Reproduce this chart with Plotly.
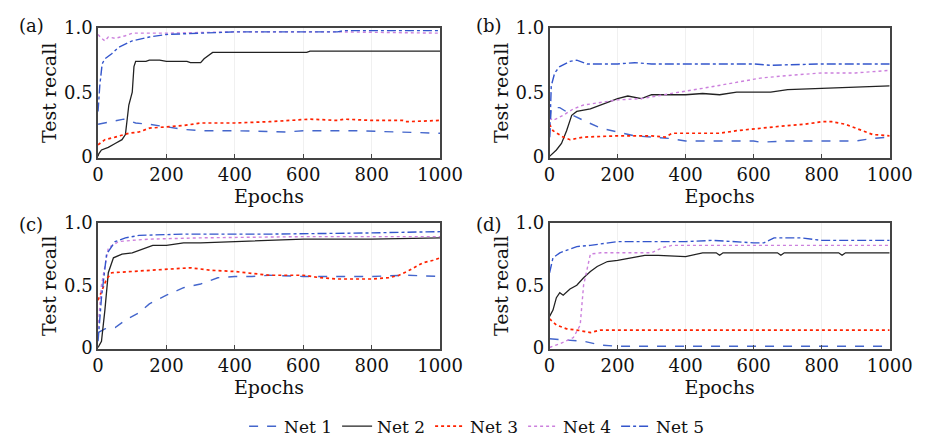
import plotly.graph_objects as go

# ---------------- data ----------------
net_names = ["Net 1", "Net 2", "Net 3", "Net 4", "Net 5"]
panel_labels = ["(a)", "(b)", "(c)", "(d)"]
x_ticks = [0, 200, 400, 600, 800, 1000]
y_ticks = [0, 0.5, 1.0]
y_tick_text = ["0", "0.5", "1.0"]

# panel (a)
a_net1_x = [0, 20, 50, 75, 110, 150, 200, 250, 300, 400, 550, 600, 750, 850, 1000]
a_net1_y = [0.25, 0.26, 0.28, 0.29, 0.26, 0.25, 0.23, 0.21, 0.20, 0.20, 0.19, 0.20, 0.20, 0.19, 0.18]
a_net2_x = [0, 2, 10, 30, 50, 70, 80, 85, 90, 100, 105, 110, 140, 150, 180, 200, 260, 270, 300, 310, 320, 335, 610, 620, 1000]
a_net2_y = [0.0, 0.02, 0.05, 0.07, 0.10, 0.13, 0.17, 0.30, 0.40, 0.50, 0.70, 0.74, 0.74, 0.75, 0.75, 0.74, 0.74, 0.73, 0.73, 0.76, 0.78, 0.81, 0.81, 0.82, 0.82]
a_net3_x = [0, 20, 50, 90, 120, 150, 200, 250, 300, 400, 500, 620, 700, 720, 800, 890, 900, 1000]
a_net3_y = [0.09, 0.13, 0.15, 0.18, 0.19, 0.22, 0.23, 0.24, 0.26, 0.26, 0.27, 0.29, 0.28, 0.29, 0.28, 0.28, 0.27, 0.28]
a_net4_x = [0, 10, 20, 30, 50, 80, 100, 200, 400, 700, 1000]
a_net4_y = [0.95, 0.92, 0.90, 0.93, 0.92, 0.94, 0.96, 0.96, 0.97, 0.97, 0.96]
a_net5_x = [0, 5, 12, 20, 40, 60, 100, 150, 200, 300, 400, 700, 720, 1000]
a_net5_y = [0.35, 0.55, 0.72, 0.76, 0.80, 0.85, 0.90, 0.93, 0.95, 0.96, 0.97, 0.97, 0.98, 0.98]

# panel (b)
b_net1_x = [0, 5, 30, 60, 100, 150, 200, 250, 350, 400, 600, 620, 700, 900, 950, 1000]
b_net1_y = [0.15, 0.38, 0.38, 0.33, 0.28, 0.22, 0.19, 0.16, 0.14, 0.12, 0.12, 0.11, 0.12, 0.12, 0.14, 0.15]
b_net2_x = [0, 20, 35, 50, 65, 80, 120, 150, 200, 230, 270, 300, 400, 450, 500, 550, 650, 700, 800, 900, 1000]
b_net2_y = [0.0, 0.05, 0.10, 0.20, 0.32, 0.35, 0.37, 0.40, 0.45, 0.47, 0.45, 0.48, 0.48, 0.49, 0.48, 0.50, 0.50, 0.52, 0.53, 0.54, 0.55]
b_net3_x = [0, 10, 40, 60, 100, 200, 300, 340, 360, 500, 550, 620, 700, 750, 800, 830, 870, 920, 950, 1000]
b_net3_y = [0.25, 0.20, 0.15, 0.13, 0.15, 0.16, 0.16, 0.15, 0.18, 0.18, 0.20, 0.22, 0.24, 0.25, 0.27, 0.27, 0.25, 0.20, 0.17, 0.16]
b_net4_x = [0, 10, 40, 70, 100, 150, 200, 270, 330, 380, 450, 550, 620, 700, 800, 900, 1000]
b_net4_y = [0.30, 0.28, 0.32, 0.37, 0.40, 0.42, 0.44, 0.45, 0.48, 0.50, 0.53, 0.58, 0.61, 0.63, 0.65, 0.65, 0.67]
b_net5_x = [0, 5, 15, 30, 60, 80, 110, 200, 250, 300, 600, 650, 800, 1000]
b_net5_y = [0.15, 0.55, 0.65, 0.70, 0.74, 0.75, 0.72, 0.72, 0.73, 0.72, 0.72, 0.71, 0.72, 0.72]

# panel (c)
c_net1_x = [0, 20, 50, 80, 120, 150, 200, 250, 300, 350, 400, 450, 500, 600, 800, 900, 1000]
c_net1_y = [0.12, 0.15, 0.16, 0.22, 0.28, 0.35, 0.42, 0.48, 0.51, 0.56, 0.57, 0.57, 0.58, 0.57, 0.57, 0.58, 0.57]
c_net2_x = [0, 10, 20, 30, 45, 70, 100, 140, 160, 200, 250, 300, 400, 500, 600, 800, 1000]
c_net2_y = [0.0, 0.05, 0.30, 0.60, 0.72, 0.75, 0.76, 0.80, 0.82, 0.82, 0.84, 0.84, 0.85, 0.86, 0.87, 0.87, 0.88]
c_net3_x = [0, 10, 25, 40, 100, 200, 270, 330, 400, 500, 600, 650, 700, 800, 850, 880, 910, 950, 980, 1000]
c_net3_y = [0.38, 0.45, 0.55, 0.60, 0.61, 0.63, 0.64, 0.62, 0.61, 0.58, 0.58, 0.56, 0.55, 0.55, 0.56, 0.58, 0.62, 0.68, 0.70, 0.72]
c_net4_x = [0, 10, 30, 60, 100, 150, 300, 600, 1000]
c_net4_y = [0.15, 0.50, 0.80, 0.85, 0.86, 0.87, 0.88, 0.89, 0.89]
c_net5_x = [0, 10, 25, 50, 80, 120, 250, 500, 800, 1000]
c_net5_y = [0.05, 0.40, 0.75, 0.85, 0.88, 0.90, 0.91, 0.91, 0.92, 0.93]

# panel (d)
d_net1_x = [0, 50, 100, 150, 200, 1000]
d_net1_y = [0.07, 0.06, 0.05, 0.02, 0.01, 0.01]
d_net2_x = [0, 10, 20, 30, 40, 60, 80, 100, 120, 140, 170, 200, 240, 280, 320, 400, 450, 490, 500, 510, 670, 680, 690, 850, 860, 870, 1000]
d_net2_y = [0.25, 0.30, 0.40, 0.44, 0.42, 0.47, 0.50, 0.56, 0.61, 0.65, 0.69, 0.70, 0.72, 0.74, 0.74, 0.73, 0.76, 0.76, 0.74, 0.76, 0.76, 0.74, 0.76, 0.76, 0.74, 0.76, 0.76]
d_net3_x = [0, 20, 50, 80, 120, 150, 1000]
d_net3_y = [0.23, 0.18, 0.15, 0.14, 0.12, 0.14, 0.14]
d_net4_x = [0, 30, 70, 90, 100, 120, 150, 300, 330, 360, 1000]
d_net4_y = [0.0, 0.03, 0.08, 0.18, 0.50, 0.75, 0.76, 0.76, 0.80, 0.82, 0.82]
d_net5_x = [0, 10, 30, 50, 80, 120, 200, 400, 480, 600, 630, 660, 740, 800, 1000]
d_net5_y = [0.60, 0.72, 0.76, 0.78, 0.81, 0.82, 0.85, 0.85, 0.86, 0.84, 0.84, 0.88, 0.88, 0.86, 0.86]

panels = [
    [(a_net1_x, a_net1_y), (a_net2_x, a_net2_y), (a_net3_x, a_net3_y), (a_net4_x, a_net4_y), (a_net5_x, a_net5_y)],
    [(b_net1_x, b_net1_y), (b_net2_x, b_net2_y), (b_net3_x, b_net3_y), (b_net4_x, b_net4_y), (b_net5_x, b_net5_y)],
    [(c_net1_x, c_net1_y), (c_net2_x, c_net2_y), (c_net3_x, c_net3_y), (c_net4_x, c_net4_y), (c_net5_x, c_net5_y)],
    [(d_net1_x, d_net1_y), (d_net2_x, d_net2_y), (d_net3_x, d_net3_y), (d_net4_x, d_net4_y), (d_net5_x, d_net5_y)],
]

# ---------------- styles ----------------
styles = [
    dict(color="#4466cc", dash="dash", width=1.4),
    dict(color="#222222", dash="solid", width=1.3),
    dict(color="#ff2200", dash="dot", width=1.7),
    dict(color="#cc80dd", dash="dot", width=1.4),
    dict(color="#3355cc", dash="dashdot", width=1.4),
]

FONT = "DejaVu Serif"
W, H = 934, 445
x_dom = [[95 / W, 448 / W], [561 / W, 912 / W]]
y_dom = [[1 - 155 / H, 1 - 18 / H], [1 - 357 / H, 1 - 224 / H]]

fig = go.Figure()
for p, series in enumerate(panels):
    ax = "" if p == 0 else str(p + 1)
    for k, (xs, ys) in enumerate(series):
        fig.add_trace(go.Scatter(
            x=xs, y=ys, mode="lines", name=net_names[k],
            line=styles[k], showlegend=(p == 0),
            xaxis="x" + ax, yaxis="y" + ax,
        ))

layout = dict(
    width=W, height=H, margin=dict(l=0, r=0, t=0, b=0),
    paper_bgcolor="white", plot_bgcolor="white",
    font=dict(family=FONT, size=17, color="#111111"),
    legend=dict(orientation="h", x=0.52, xanchor="center", y=-0.03, yanchor="bottom",
                font=dict(family=FONT, size=17), itemwidth=30,
                bgcolor="rgba(0,0,0,0)"),
    annotations=[],
)
for p in range(4):
    col, row = p % 2, p // 2
    ax = "" if p == 0 else str(p + 1)
    layout["xaxis" + ax] = dict(
        domain=x_dom[col], anchor="y" + ax, range=[0, 1000],
        tickvals=x_ticks, ticks="inside", ticklen=4, tickcolor="#444",
        showline=True, mirror=True, linecolor="#444", linewidth=1.5,
        showgrid=True, gridcolor="#f0f0f0", gridwidth=1, zeroline=False,
        tickfont=dict(family=FONT, size=18),
        title=dict(text="Epochs", standoff=0, font=dict(family=FONT, size=19)),
    )
    layout["yaxis" + ax] = dict(
        domain=y_dom[row], anchor="x" + ax, range=[-0.01, 1.0],
        tickvals=y_ticks, ticktext=y_tick_text, ticks="", showgrid=False,
        showline=True, mirror=True, linecolor="#444", linewidth=1.5, zeroline=False,
        tickfont=dict(family=FONT, size=18),
        title=dict(text="Test recall", standoff=2, font=dict(family=FONT, size=19)),
    )
    layout["annotations"].append(dict(
        text=panel_labels[p], xref="paper", yref="paper",
        x=[11 / W, 483 / W][col],
        y=[1 - 15 / H, 1 - 226 / H][row], xanchor="left", yanchor="middle",
        showarrow=False, font=dict(family=FONT, size=18),
    ))

fig.update_layout(**layout)
fig.write_html("out.html")
